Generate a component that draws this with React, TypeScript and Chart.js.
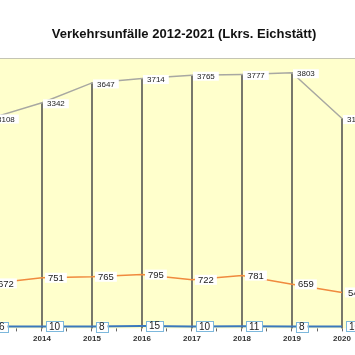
import React, { useEffect, useRef } from 'react';
import { Chart, registerables } from 'chart.js';

Chart.register(...registerables);

const TITLE = 'Verkehrsunfälle 2012-2021 (Lkrs. Eichstätt)';
const YEARS = [2013, 2014, 2015, 2016, 2017, 2018, 2019, 2020];
const ACCIDENTS = [3108, 3342, 3647, 3714, 3765, 3777, 3803, 3100];
const INJURED = [672, 751, 765, 795, 722, 781, 659, 545];
const KILLED = [6, 10, 8, 15, 10, 11, 8, 10];
const TICK_VALUES = [2013.5, 2014, 2014.5, 2015, 2015.5, 2016, 2016.5, 2017, 2017.5, 2018, 2018.5, 2019, 2019.5, 2020];

const FONT = '"Liberation Sans", Arial, sans-serif';
const Y_ACC_MIN = -121;

type LabelStyle = { size: number; padX: number; h: number; dx: number; dy: number; border: string | null };

const LABEL_STYLES: Record<number, LabelStyle> = {
  1: { size: 8, padX: 4, h: 9, dx: 1, dy: 1, border: null },
  2: { size: 9.5, padX: 3, h: 10, dx: 3, dy: 0, border: null },
  3: { size: 10, padX: 3, h: 10, dx: 4, dy: 0, border: '#7db8dc' },
};

const pts = (vals: number[]) => YEARS.map((x, i) => ({ x, y: vals[i] }));

const bgPlugin = {
  id: 'bgPlugin',
  beforeDatasetsDraw(chart: any) {
    const { ctx, chartArea } = chart;
    ctx.save();
    ctx.fillStyle = '#ffffcc';
    ctx.fillRect(chartArea.left, chartArea.top, chartArea.right - chartArea.left, chartArea.bottom - chartArea.top);
    ctx.strokeStyle = '#c4c4b4';
    ctx.lineWidth = 1;
    ctx.beginPath();
    ctx.moveTo(chartArea.left, chartArea.top - 0.5);
    ctx.lineTo(chartArea.right, chartArea.top - 0.5);
    ctx.stroke();
    ctx.restore();
  },
};

const titlePlugin = {
  id: 'titlePlugin',
  afterDraw(chart: any) {
    const { ctx } = chart;
    ctx.save();
    ctx.font = `bold 13px ${FONT}`;
    ctx.fillStyle = '#111';
    ctx.textAlign = 'center';
    ctx.textBaseline = 'middle';
    ctx.fillText(TITLE, 184, 34);
    ctx.restore();
  },
};

const labelPlugin = {
  id: 'labelPlugin',
  afterDatasetsDraw(chart: any) {
    const { ctx } = chart;
    ctx.save();
    chart.data.datasets.forEach((ds: any, i: number) => {
      const st = LABEL_STYLES[i];
      if (!st) return;
      const yScale = chart.scales[ds.yAxisID];
      const xScale = chart.scales.x;
      ctx.font = `${st.size}px ${FONT}`;
      ds.data.forEach((p: any) => {
        const px = xScale.getPixelForValue(p.x);
        const py = yScale.getPixelForValue(p.y);
        const text = String(p.y);
        const w = ctx.measureText(text).width;
        const bx = px + st.dx;
        const bw = w + st.padX * 2;
        const cy = py + st.dy;
        const by = cy - st.h / 2;
        ctx.fillStyle = '#ffffff';
        ctx.fillRect(bx, by, bw, st.h);
        if (st.border) {
          ctx.strokeStyle = st.border;
          ctx.lineWidth = 1;
          ctx.strokeRect(Math.round(bx) + 0.5, Math.round(by) + 0.5, Math.round(bw), Math.round(st.h));
        }
        ctx.fillStyle = '#222';
        ctx.textAlign = 'left';
        ctx.textBaseline = 'middle';
        ctx.fillText(text, bx + st.padX, cy + 0.5);
      });
    });
    ctx.restore();
  },
};

export default function App() {
  const ref = useRef<HTMLCanvasElement | null>(null);

  useEffect(() => {
    document.body.style.margin = '0';
    if (!ref.current) return;
    const chart = new Chart(ref.current, {
      type: 'line',
      data: {
        datasets: [
          {
            type: 'bar',
            data: pts(ACCIDENTS),
            yAxisID: 'yA',
            backgroundColor: '#5c5c58',
            barThickness: 1,
            base: Y_ACC_MIN,
            order: 5,
          } as any,
          {
            type: 'line',
            data: pts(ACCIDENTS),
            yAxisID: 'yA',
            borderColor: '#a8a8a2',
            borderWidth: 1.5,
            pointRadius: 0,
            tension: 0,
            order: 4,
          },
          {
            type: 'line',
            data: pts(INJURED),
            yAxisID: 'yI',
            borderColor: '#f08a3e',
            borderWidth: 1.5,
            pointRadius: 0,
            tension: 0,
            order: 3,
          },
          {
            type: 'line',
            data: pts(KILLED),
            yAxisID: 'yK',
            borderColor: '#3a78bd',
            borderWidth: 2,
            pointRadius: 0,
            tension: 0,
            order: 2,
          },
        ],
      },
      options: {
        animation: false,
        responsive: false,
        maintainAspectRatio: false,
        layout: { padding: { top: 59, bottom: 8, left: 0, right: 0 } },
        plugins: {
          legend: { display: false },
          title: { display: false },
          tooltip: { enabled: false },
        },
        scales: {
          x: {
            type: 'linear',
            offset: false,
            min: 2013.16,
            max: 2020.26,
            afterBuildTicks: (s: any) => {
              s.ticks = TICK_VALUES.map((v) => ({ value: v }));
            },
            ticks: {
              autoSkip: false,
              maxRotation: 0,
              padding: 3,
              color: '#333',
              font: { family: FONT, size: 8, weight: 'bold' },
              callback: (v: any) => (Number.isInteger(v) ? String(v) : ''),
            },
            grid: { offset: false, drawOnChartArea: false, tickLength: 3, color: '#666' },
            border: { display: false },
          },
          yA: { display: false, min: Y_ACC_MIN, max: 4014 },
          yI: { display: false, min: 43, max: 3809 },
          yK: { display: false, min: -20, max: 4000 },
        },
      } as any,
      plugins: [bgPlugin, labelPlugin, titlePlugin],
    });
    return () => chart.destroy();
  }, []);

  return <canvas ref={ref} width={355} height={355} style={{ display: 'block', width: 355, height: 355 }} />;
}
